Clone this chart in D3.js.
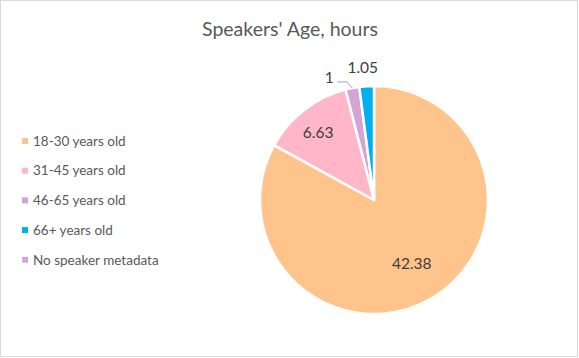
<!DOCTYPE html>
<html><head><meta charset="utf-8">
<script src="https://cdn.jsdelivr.net/npm/d3@7"></script>
<style>body{margin:0;background:#fff}svg{display:block}text{font-family:"Source Sans Pro",Lato,"Open Sans",sans-serif}</style>
</head><body><svg id="c" width="579" height="358"></svg>
<script>
const categories = ["18-30 years old","31-45 years old","46-65 years old","66+ years old","No speaker metadata"];
const values = [42.38, 6.63, 1, 1.05, 0];
const labels = ["42.38","6.63","1","1.05",""];
const colors = ["#FFC48C","#FFB6C8","#D4A4D4","#00B0F0","#D4A4D4"];

const svg = d3.select("#c");
const W = 579, H = 358;
const defs = svg.append("defs");
const pat = defs.append("pattern").attr("id","dots").attr("width",3).attr("height",3).attr("patternUnits","userSpaceOnUse");
pat.append("rect").attr("width",3).attr("height",3).attr("fill","#D4A4D4");
pat.append("rect").attr("x",1).attr("y",1).attr("width",1).attr("height",1).attr("fill","#efe0ef");

svg.append("rect").attr("x",0.5).attr("y",0.5).attr("width",W-2).attr("height",H-2)
  .attr("fill","#fff").attr("stroke","#d9d9d9");

svg.append("text").attr("x",290).attr("y",36).attr("text-anchor","middle")
  .attr("font-size",19.5).attr("fill","#595959").text("Speakers' Age, hours");

const cx = 374, cy = 200, R = 114;
const data = categories.map((c,i)=>({c, v: values[i], label: labels[i], color: colors[i]}));
const pie = d3.pie().value(d=>d.v).sort(null);
const arcs = pie(data);
const arc = d3.arc().innerRadius(0).outerRadius(R);
const g = svg.append("g").attr("transform",`translate(${cx},${cy})`);
g.selectAll("path").data(arcs.filter(a=>a.data.v>0)).join("path")
  .attr("d",arc).attr("fill",d=>d.data.color)
  .attr("stroke","#fff").attr("stroke-width",2.5).attr("stroke-linejoin","round");

const lblR = [0.65, 0.77, 1.14, 1.17];
const lblOff = [0, -0.03, -0.16, -0.02];
function pt(a, r){ return [Math.sin(a)*r, -Math.cos(a)*r]; }
arcs.forEach((a,i)=>{
  if(!a.data.v) return;
  const mid = (a.startAngle+a.endAngle)/2 + lblOff[i];
  const [x,y] = pt(mid, R*lblR[i]);
  g.append("text").attr("x",x).attr("y",y).attr("dy","0.35em").attr("text-anchor","middle")
    .attr("font-size",15.5).attr("fill","#404040").text(a.data.label);
  if(i===2){
    const m0 = (a.startAngle+a.endAngle)/2;
    const [ex,ey] = pt(m0, R*1.0);
    const [bx,by] = pt(m0, R*1.07);
    g.append("path").attr("d",`M${x+8},${y+4}H${bx-4}L${ex},${ey}`)
      .attr("fill","none").attr("stroke","#a6a6a6").attr("stroke-width",1);
  }
});

const lg = svg.append("g");
data.forEach((d,i)=>{
  const y = 141 + i*29.7;
  lg.append("rect").attr("x",22).attr("y",y-3).attr("width",6).attr("height",6)
    .attr("fill", i===4 ? "url(#dots)" : d.color);
  lg.append("text").attr("x",33).attr("y",y).attr("dy","0.35em")
    .attr("font-size",13.5).attr("fill","#595959").text(d.c);
});
</script></body></html>
